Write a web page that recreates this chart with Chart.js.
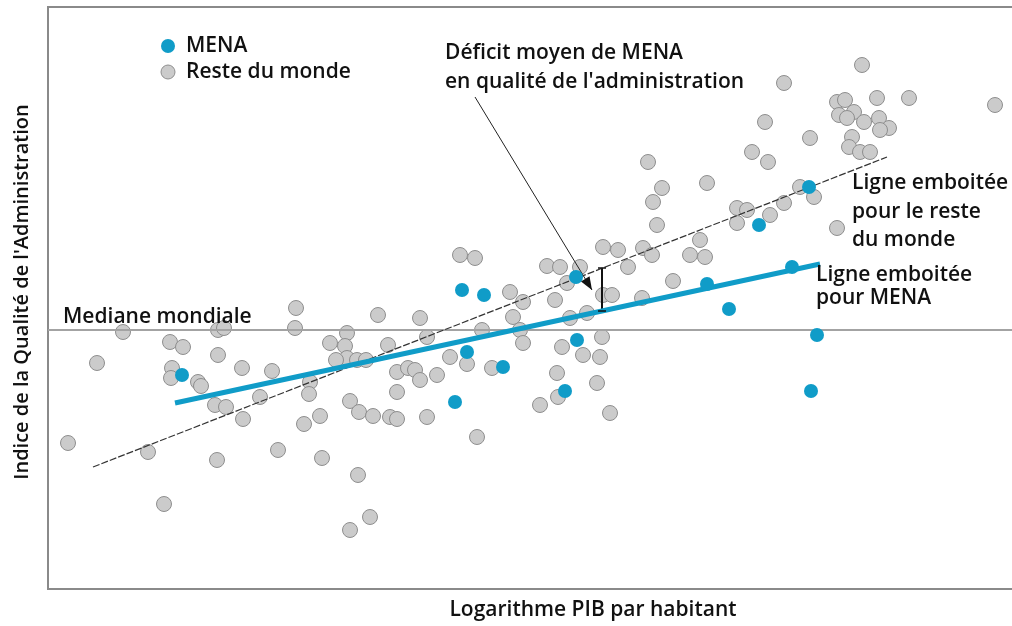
<!DOCTYPE html>
<html>
<head>
<meta charset="utf-8">
<script src="https://cdn.jsdelivr.net/npm/chart.js@4.4.1/dist/chart.umd.min.js"></script>
<style>
html, body { margin: 0; padding: 0; background: #fff; overflow: hidden; }
#wrap { width: 1012px; height: 626px; position: relative; }
canvas { display: block; }
</style>
</head>
<body>
<div id="wrap"><canvas id="myChart"></canvas></div>
<script>
// values (arbitrary index units)
var restX = [2.0, 4.9, 7.5, 10.0, 11.6, 12.2, 13.5, 12.4, 12.3, 15.0, 15.3, 17.0, 17.6, 17.0, 19.4, 22.4, 16.7, 17.8, 16.9, 19.5,
  21.2, 23.0, 24.8, 24.7, 26.2, 26.1, 25.6, 27.2, 27.4, 28.2, 29.9, 29.7, 29.9, 28.8, 30.9, 31.8, 33.0, 30.2, 31.1, 32.5,
  34.2, 34.9, 37.9, 31.0, 32.2, 30.2, 34.0, 37.2, 37.9, 34.9, 36.0, 36.7, 37.2, 38.9, 34.9, 41.2, 42.7, 43.4, 40.2, 41.9,
  44.4, 42.9, 46.2, 47.5, 46.5, 47.2, 47.5, 50.7, 49.9, 51.2, 53.2, 51.9, 52.2, 53.9, 55.5, 56.4, 59.4, 51.4, 53.5, 55.2,
  55.4, 50.9, 54.9, 51.0, 49.2, 56.2, 55.5, 57.0, 59.5, 60.4, 58.0, 60.0, 61.4, 60.5, 60.9, 62.5, 64.2, 65.2, 65.7, 65.9,
  68.9, 69.9, 68.9, 72.2, 73.6, 70.4, 72.0, 71.7, 73.6, 76.2, 75.2, 76.6, 78.9, 81.4, 78.9, 79.7, 80.6, 79.1, 79.9, 81.6,
  82.9, 83.1, 84.1, 83.2, 86.1, 94.7, 80.4, 80.1, 81.2, 82.2];
var restY = [14.6, 22.6, 25.7, 13.7, 8.5, 24.7, 24.2, 22.1, 21.1, 20.7, 20.3, 25.9, 26.1, 23.4, 22.1, 21.8, 18.4, 18.2, 12.9, 17.0,
  19.2, 13.9, 28.1, 26.1, 20.7, 19.5, 16.5, 17.3, 13.1, 24.6, 25.6, 24.3, 23.1, 22.9, 22.9, 22.9, 27.4, 18.8, 17.7, 17.3,
  17.2, 17.0, 17.2, 11.4, 7.2, 5.9, 24.4, 27.1, 25.2, 21.7, 22.1, 21.9, 20.9, 21.4, 19.7, 33.4, 33.1, 25.9, 23.2, 22.5,
  22.1, 15.2, 29.7, 28.7, 27.2, 25.9, 24.6, 28.9, 32.3, 32.2, 32.2, 30.6, 27.1, 27.6, 29.4, 29.4, 29.1, 24.2, 23.4, 23.2,
  25.2, 21.6, 20.6, 19.2, 18.4, 17.6, 34.2, 33.9, 34.1, 33.4, 32.2, 42.7, 40.1, 38.7, 36.4, 30.8, 33.4, 34.9, 33.2, 40.6,
  38.1, 37.9, 36.6, 37.4, 38.6, 43.7, 42.7, 46.7, 50.6, 45.1, 40.2, 39.2, 36.1, 52.4, 48.7, 48.9, 47.7, 47.4, 47.1, 46.7,
  49.1, 47.1, 46.1, 45.9, 49.1, 48.4, 45.2, 44.2, 43.7, 43.7];

var menaX = [13.4, 41.4, 43.6, 41.9, 40.7, 45.5, 52.8, 52.9, 51.7, 65.9, 68.1, 71.1, 74.4, 76.1, 76.9, 76.3];
var menaY = [21.4, 29.9, 29.4, 23.7, 18.7, 22.2, 31.2, 24.9, 19.8, 30.5, 28.0, 36.4, 32.2, 40.2, 25.4, 19.8];

// fitted lines (end points)
var fitRestX = [4.5, 83.9];
var fitRestY = [12.2, 43.2];
var fitMenaX = [12.7, 77.2];
var fitMenaY = [18.6, 32.5];

var medianY = 25.9;

// annotation: pointer line and the gap bracket
var arrowX = [42.7, 54.4];
var arrowY = [49.2, 29.9];
var gapX = 55.4;
var gapY = [27.8, 32.1];

var xMin = 0, xMax = 96.4, yMin = 0, yMax = 58.2;

function pts(xs, ys) {
  return xs.map(function (x, i) { return { x: x, y: ys[i] }; });
}

var FONT = '600 21px "Open Sans", sans-serif';
var FONT_Y = '600 20px "Open Sans", sans-serif';
var MENA_COLOR = '#109cc8';
var GRAY_FILL = '#cbcbcb';
var GRAY_EDGE = '#8e8e8e';

var decorPlugin = {
  id: 'decor',
  afterDatasetsDraw: function (chart) {
    var ctx = chart.ctx;
    var xs = chart.scales.x, ys = chart.scales.y;
    var area = chart.chartArea;
    ctx.save();

    // top frame line
    ctx.strokeStyle = '#8a8a8a';
    ctx.lineWidth = 2;
    ctx.beginPath();
    ctx.moveTo(area.left, area.top);
    ctx.lineTo(area.right, area.top);
    ctx.stroke();

    // arrow head
    var x1 = xs.getPixelForValue(arrowX[0]), y1 = ys.getPixelForValue(arrowY[0]);
    var x2 = xs.getPixelForValue(arrowX[1]), y2 = ys.getPixelForValue(arrowY[1]);
    var a = Math.atan2(y2 - y1, x2 - x1);
    ctx.fillStyle = '#111';
    ctx.beginPath();
    ctx.moveTo(x2, y2);
    ctx.lineTo(x2 - 13 * Math.cos(a) + 5 * Math.sin(a), y2 - 13 * Math.sin(a) - 5 * Math.cos(a));
    ctx.lineTo(x2 - 13 * Math.cos(a) - 5 * Math.sin(a), y2 - 13 * Math.sin(a) + 5 * Math.cos(a));
    ctx.closePath();
    ctx.fill();

    // bracket caps
    var gx = xs.getPixelForValue(gapX);
    var gTop = ys.getPixelForValue(gapY[1]), gBot = ys.getPixelForValue(gapY[0]);
    ctx.strokeStyle = '#111';
    ctx.lineWidth = 1.5;
    ctx.beginPath();
    ctx.moveTo(gx - 4, gTop); ctx.lineTo(gx + 4, gTop);
    ctx.moveTo(gx - 4, gBot); ctx.lineTo(gx + 4, gBot);
    ctx.stroke();

    // legend
    ctx.lineWidth = 1;
    ctx.fillStyle = MENA_COLOR;
    ctx.beginPath(); ctx.arc(168, 46, 7, 0, Math.PI * 2); ctx.fill();
    ctx.fillStyle = GRAY_FILL; ctx.strokeStyle = GRAY_EDGE;
    ctx.beginPath(); ctx.arc(168, 72, 7, 0, Math.PI * 2); ctx.fill(); ctx.stroke();

    ctx.fillStyle = '#111';
    ctx.font = FONT;
    ctx.textBaseline = 'middle';
    ctx.textAlign = 'left';
    ctx.fillText('MENA', 186, 46);
    ctx.fillText('Reste du monde', 186, 72);
    ctx.fillText('Déficit moyen de MENA', 445, 53);
    ctx.fillText("en qualité de l'administration", 445, 82);
    ctx.fillText('Mediane mondiale', 63, 317);
    ctx.fillText('Ligne emboitée', 852, 183);
    ctx.fillText('pour le reste', 852, 212);
    ctx.fillText('du monde', 852, 240);
    ctx.fillText('Ligne emboitée', 816, 275);
    ctx.fillText('pour MENA', 816, 298);

    // axis titles
    ctx.textAlign = 'center';
    ctx.fillText('Logarithme PIB par habitant', 593, 610);
    ctx.save();
    ctx.translate(22, 292);
    ctx.rotate(-Math.PI / 2);
    ctx.font = FONT_Y;
    ctx.fillText("Indice de la Qualité de l'Administration", 0, 0);
    ctx.restore();

    ctx.restore();
  }
};

var ctx = document.getElementById('myChart').getContext('2d');
new Chart(ctx, {
  type: 'scatter',
  data: {
    datasets: [
      {
        label: 'MENA',
        data: pts(menaX, menaY),
        backgroundColor: MENA_COLOR,
        borderWidth: 0,
        pointRadius: 7
      },
      {
        type: 'line',
        label: 'Ligne emboitée pour MENA',
        data: pts(fitMenaX, fitMenaY),
        borderColor: MENA_COLOR,
        borderWidth: 5,
        pointRadius: 0,
        fill: false
      },
      {
        type: 'line',
        label: 'Ligne emboitée pour le reste du monde',
        data: pts(fitRestX, fitRestY),
        borderColor: '#333',
        borderWidth: 1.2,
        borderDash: [7, 2],
        pointRadius: 0,
        fill: false
      },
      {
        type: 'line',
        label: 'pointer',
        data: pts(arrowX, arrowY),
        borderColor: '#222',
        borderWidth: 1,
        pointRadius: 0,
        fill: false
      },
      {
        type: 'line',
        label: 'gap',
        data: [{ x: gapX, y: gapY[0] }, { x: gapX, y: gapY[1] }],
        borderColor: '#111',
        borderWidth: 2,
        pointRadius: 0,
        fill: false
      },
      {
        type: 'line',
        label: 'Mediane mondiale',
        data: [{ x: xMin, y: medianY }, { x: xMax, y: medianY }],
        borderColor: '#a3a3a3',
        borderWidth: 2,
        pointRadius: 0,
        fill: false
      },
      {
        label: 'Reste du monde',
        data: pts(restX, restY),
        backgroundColor: GRAY_FILL,
        borderColor: GRAY_EDGE,
        borderWidth: 1,
        pointRadius: 7.5
      }
    ]
  },
  options: {
    responsive: true,
    maintainAspectRatio: false,
    animation: false,
    layout: { autoPadding: false, padding: { left: 48, top: 7, right: 0, bottom: 37 } },
    plugins: {
      legend: { display: false },
      tooltip: { enabled: false }
    },
    scales: {
      x: {
        type: 'linear',
        min: xMin,
        max: xMax,
        ticks: { display: false },
        grid: { display: false, drawTicks: false },
        border: { display: true, color: '#8a8a8a', width: 2 }
      },
      y: {
        type: 'linear',
        min: yMin,
        max: yMax,
        ticks: { display: false },
        grid: { display: false, drawTicks: false },
        border: { display: true, color: '#8a8a8a', width: 2 }
      }
    }
  },
  plugins: [decorPlugin]
});
</script>
</body>
</html>
